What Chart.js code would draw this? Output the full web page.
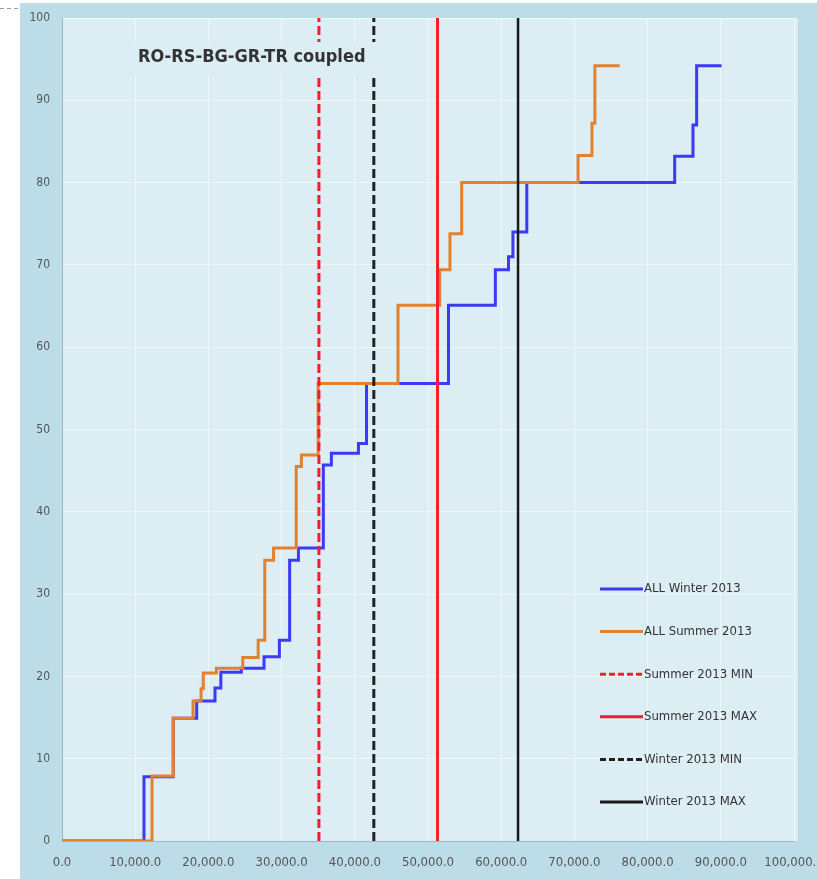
<!DOCTYPE html>
<html>
<head>
<meta charset="utf-8">
<script src="https://cdn.jsdelivr.net/npm/chart.js@4.4.1/dist/chart.umd.min.js"></script>
<style>
  html, body { margin: 0; padding: 0; background: #fff; }
  #wrap { position: relative; width: 817px; height: 879px; }
</style>
</head>
<body>
<div id="wrap"><canvas id="curveChart" width="817" height="879"></canvas></div>
<script>
// step curves (x = MW, y = value)
const winterX = [0, 11200, 15200, 18400, 20900, 21700, 24500, 27600, 29700, 31100, 32300, 35700, 36800, 40500, 41600, 52800, 59200, 61000, 61600, 63500, 83700, 86200, 86700, 90100];
const winterY = [0, 7.8, 14.9, 17.0, 18.6, 20.5, 21.0, 22.4, 24.4, 34.1, 35.6, 45.7, 47.1, 48.3, 55.6, 65.1, 69.4, 71.0, 74.0, 80.0, 83.2, 87.0, 94.2, 94.2];
const summerX = [0, 12300, 15200, 17900, 19000, 19300, 21100, 24700, 26800, 27700, 28900, 32000, 32700, 35000, 45900, 51600, 53000, 54600, 70500, 72400, 72800, 76200];
const summerY = [0, 7.9, 14.9, 17.0, 18.5, 20.4, 21.0, 22.3, 24.4, 34.1, 35.6, 45.5, 46.9, 55.6, 65.1, 69.4, 73.8, 80.0, 83.3, 87.2, 94.2, 94.2];

// vertical reference lines
const summerMin = 35100;
const summerMax = 51300;
const winterMin = 42600;
const winterMax = 62300;

const xTicks = [0, 10000, 20000, 30000, 40000, 50000, 60000, 70000, 80000, 90000, 100000];
const yTicks = [0, 10, 20, 30, 40, 50, 60, 70, 80, 90, 100];
const chartTitle = 'RO-RS-BG-GR-TR coupled';

const narrow = "'Liberation Sans Narrow', 'DejaVu Sans Condensed', sans-serif";

function pts(xs, ys) {
    return xs.map((x, i) => ({x: x, y: ys[i]}));
}
function vline(x) {
    return [{x: x, y: 0}, {x: x, y: 100}];
}

// background: outer panel + plot area
const bgPlugin = {
    id: 'bg',
    beforeDraw(chart) {
        const c = chart.ctx, a = chart.chartArea;
        c.save();
        c.fillStyle = '#ffffff';
        c.fillRect(0, 0, chart.width, chart.height);
        c.fillStyle = '#bcdce7';
        c.fillRect(20, 3, chart.width - 20, chart.height - 3);
        c.fillStyle = '#dcedf4';
        c.fillRect(a.left, a.top, a.right - a.left + 4, a.bottom - a.top);
        c.strokeStyle = '#9a9a9a';
        c.setLineDash([4, 3]);
        c.lineWidth = 1;
        c.beginPath(); c.moveTo(0, 8.5); c.lineTo(20, 8.5); c.stroke();
        c.restore();
    }
};

// title box and legend drawn inside the plot
const overlayPlugin = {
    id: 'overlay',
    afterDraw(chart) {
        const c = chart.ctx;
        c.save();
        c.fillStyle = '#dcedf4';
        c.fillRect(132, 42, 250, 32);
        c.font = 'bold 18px ' + narrow;
        c.fillStyle = '#333333';
        c.textBaseline = 'middle';
        c.fillText(chartTitle, 138, 57);

        c.font = '13px ' + narrow;
        chart.data.datasets.forEach((ds, i) => {
            const y = 589 + i * 42.6;
            c.strokeStyle = ds.borderColor;
            c.lineWidth = 3;
            c.setLineDash(ds.borderDash ? [6, 3] : []);
            c.beginPath(); c.moveTo(600, y); c.lineTo(643, y); c.stroke();
            c.fillStyle = '#333333';
            c.fillText(ds.label, 644, y);
        });
        c.restore();
    }
};

new Chart(document.getElementById('curveChart').getContext('2d'), {
    type: 'line',
    data: {
        datasets: [
            {label: 'ALL Winter 2013', data: pts(winterX, winterY), borderColor: '#3b3bf5', borderWidth: 3, stepped: true, order: 2},
            {label: 'ALL Summer 2013', data: pts(summerX, summerY), borderColor: '#e4812e', borderWidth: 3, stepped: true, order: 1},
            {label: 'Summer 2013 MIN', data: vline(summerMin), borderColor: '#f0202a', borderWidth: 3, borderDash: [9, 4], order: 0},
            {label: 'Summer 2013 MAX', data: vline(summerMax), borderColor: '#f0202a', borderWidth: 3, order: 0},
            {label: 'Winter 2013 MIN', data: vline(winterMin), borderColor: '#222222', borderWidth: 3, borderDash: [9, 4], order: 0},
            {label: 'Winter 2013 MAX', data: vline(winterMax), borderColor: '#1a1a1a', borderWidth: 2.5, order: 0}
        ]
    },
    options: {
        responsive: false,
        animation: false,
        layout: {padding: {left: 20, right: 23, top: 18, bottom: 0}},
        elements: {point: {radius: 0}, line: {tension: 0}},
        plugins: {legend: {display: false}, tooltip: {enabled: false}},
        scales: {
            x: {
                type: 'linear', min: 0, max: 100000,
                afterBuildTicks: s => { s.ticks = xTicks.map(v => ({value: v})); },
                afterFit: s => { s.height = 38; s.paddingLeft = 0; s.paddingRight = 0; },
                grid: {color: 'rgba(255,255,255,0.55)', drawTicks: false},
                border: {color: '#9db6bf'},
                ticks: {
                    padding: 14, maxRotation: 0, autoSkip: false,
                    color: '#555', font: {family: narrow, size: 13},
                    callback: v => v.toLocaleString('en-US', {minimumFractionDigits: 1, maximumFractionDigits: 1})
                }
            },
            y: {
                min: 0, max: 100,
                afterBuildTicks: s => { s.ticks = yTicks.map(v => ({value: v})); },
                afterFit: s => { s.width = 42; s.paddingTop = 0; s.paddingBottom = 0; },
                grid: {color: 'rgba(255,255,255,0.55)', drawTicks: false},
                border: {color: '#9db6bf'},
                ticks: {padding: 12, color: '#555', font: {family: narrow, size: 12}}
            }
        }
    },
    plugins: [bgPlugin, overlayPlugin]
});
</script>
</body>
</html>
